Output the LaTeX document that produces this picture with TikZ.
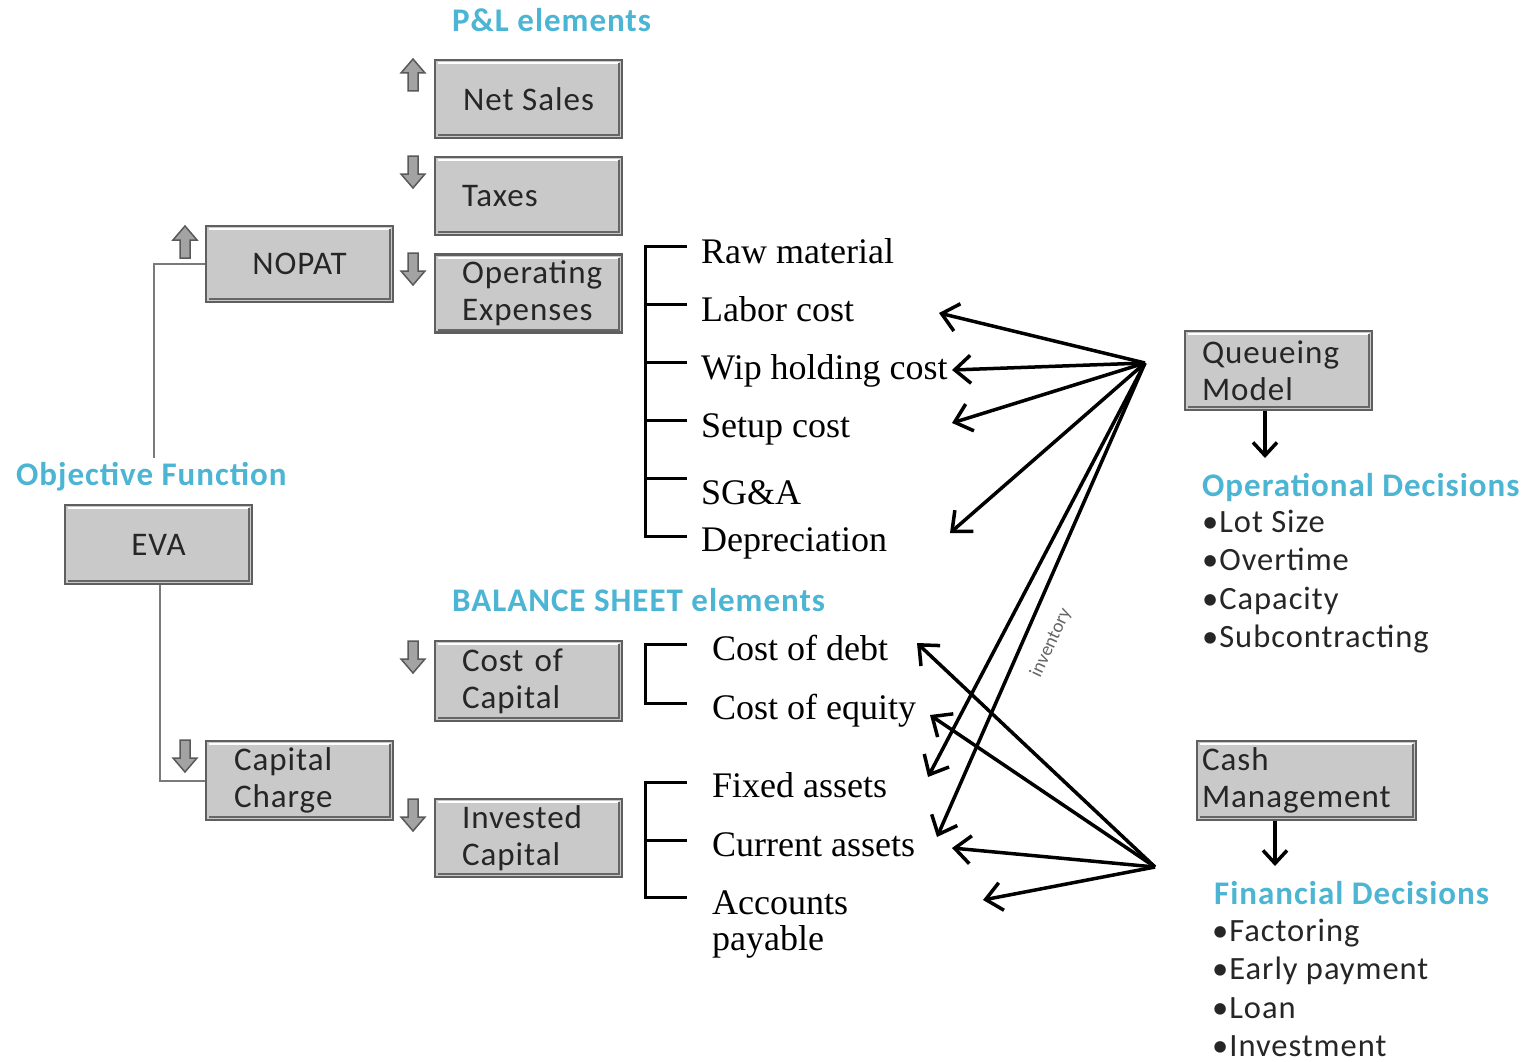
\documentclass[tikz,border=0pt]{standalone}
\usepackage{fontspec}
\setmainfont{Liberation Serif}
\newfontfamily\carl{Carlito}
\newfontfamily\carlwide[LetterSpace=3]{Carlito}
\usetikzlibrary{arrows.meta}

\definecolor{boxfill}{HTML}{C9C9C9}
\definecolor{boxedge}{HTML}{5F5F5F}
\definecolor{headblue}{HTML}{4BB5D3}
\definecolor{conngray}{HTML}{7A7A7A}
\definecolor{arrfill}{HTML}{A3A3A3}

\tikzset{
  box/.style={draw=boxedge, fill=boxfill, line width=2.5pt, minimum height=78pt, inner ysep=0pt,
    font=\carlwide\fontsize{33}{37}\selectfont, text=black!85,
    path picture={
      \draw[white, line width=2pt] ([xshift=3pt,yshift=-3pt]path picture bounding box.north west) -- ([xshift=-3pt,yshift=-3pt]path picture bounding box.north east);
      \draw[black!60, line width=2pt] ([xshift=-3pt,yshift=-3pt]path picture bounding box.north east) -- ([xshift=-3pt,yshift=3pt]path picture bounding box.south east) -- ([xshift=3pt,yshift=3pt]path picture bounding box.south west);
    }},
  lbox/.style={box, align=left, text width=133pt, inner xsep=27pt},
  item/.style={anchor=base west, font=\fontsize{36}{36}\selectfont, inner sep=0pt},
  heading/.style={anchor=base west, font=\carlwide\bfseries\fontsize{33}{36}\selectfont, text=headblue, inner sep=0pt},
  bullets/.style={anchor=north west, font=\carlwide\fontsize{32.5}{38.3}\selectfont, inner sep=0pt, align=left, text=black!85},
  link/.style={draw=conngray, line width=2pt},
  bracket/.style={draw=black, line width=3pt},
  impact/.style={draw=black, line width=3.5pt, -{Straight Barb[length=16pt,width=28pt]}},
  drop/.style={draw=black, line width=3.5pt, -{Straight Barb[length=13pt,width=24pt]}},
  blockdown/.pic={\path[fill=arrfill, draw=black!65, line width=1.5pt]
    (-5,-16)--(5,-16)--(5,2)--(12,2)--(0,16)--(-12,2)--(-5,2)--cycle;},
  blockup/.pic={\path[fill=arrfill, draw=black!65, line width=1.5pt]
    (-5,16)--(5,16)--(5,-2)--(12,-2)--(0,-16)--(-12,-2)--(-5,-2)--cycle;}
}

\begin{document}
\begin{tikzpicture}[x=1pt, y=-1pt]
\useasboundingbox (0,0) rectangle (1523,1062);
\fill[white] (0,0) rectangle (1523,1062);

% headings
\node[heading] (plh) at (452,32) {P\&L elements};
\node[heading] (bsh) at (452,611) {BALANCE SHEET elements};
\node[heading] (objh) at (16,485) {Objective Function};
\node[heading] (oph) at (1202,496) {Operational Decisions};
\node[heading] (finh) at (1214,904) {Financial Decisions};

% boxes
\node[box, minimum width=187pt] (netsales) at (528.5,99) {Net Sales};
\node[lbox] (taxes) at (528.5,196) {Taxes};
\node[lbox] (opex) at (528.5,293.5) {Operating\\Expenses};
\node[box, minimum width=187pt, minimum height=76pt] (nopat) at (299.5,264) {NOPAT};
\node[box, minimum width=187pt, minimum height=79pt] (eva) at (158.5,544.5) {EVA};
\node[lbox, minimum height=80pt] (coc) at (528.5,681) {Cost of\\Capital};
\node[lbox, text width=131pt, inner xsep=28pt, minimum height=79pt] (capch) at (299.5,780.5) {Capital\\Charge};
\node[lbox] (invcap) at (528.5,838) {Invested\\Capital};
\node[lbox, text width=153pt, inner xsep=17pt, minimum height=79pt] (queue) at (1278.5,370.5) {Queueing\\Model};
\node[lbox, text width=209pt, inner xsep=5pt, minimum height=79pt] (cash) at (1306.5,780.5) {Cash\\Management};

% small block arrows
\pic at (413,75) {blockup};
\pic at (413,172) {blockdown};
\pic at (413,269) {blockdown};
\pic at (185,242) {blockup};
\pic at (413,657) {blockdown};
\pic at (185,756) {blockdown};
\pic at (413,815) {blockdown};

% gray connectors
\coordinate (objtop) at (154,458);
\draw[link] (nopat.west) -| (objtop);
\draw[link] ([xshift=1.5pt]eva.south) |- (capch.west);

% brackets
\draw[bracket] (687,246) -- (645,246) -- (645,536) -- (687,536);
\foreach \yy in {304,362,420,478} \draw[bracket] (645,\yy) -- (687,\yy);
\draw[bracket] (687,644) -- (645,644) -- (645,703) -- (687,703);
\draw[bracket] (687,782) -- (645,782) -- (645,897) -- (687,897);
\draw[bracket] (645,840) -- (687,840);

% cost items
\node[item] (raw) at (701,263) {Raw material};
\node[item] (labor) at (701,321) {Labor cost};
\node[item] (wip) at (701,379) {Wip holding cost};
\node[item] (setup) at (701,437) {Setup cost};
\node[item] (sga) at (701,504) {SG\&A};
\node[item] (depr) at (701,551) {Depreciation};
\node[item] (debt) at (712,660) {Cost of debt};
\node[item] (equity) at (712,719) {Cost of equity};
\node[item] (fixed) at (712,797) {Fixed assets};
\node[item] (current) at (712,856) {Current assets};
\node[item, anchor=north west, align=left] (payable) at (712,891) {Accounts\\payable};

% decision lists
\node[bullets] (oplist) at (1202,510) {•Lot Size\\•Overtime\\•Capacity\\•Subcontracting};
\node[bullets] (finlist) at (1212,919) {•Factoring\\•Early payment\\•Loan\\•Investment};

% down arrows from models
\coordinate (opdtop) at (1265,458);
\coordinate (findtop) at (1275,866);
\draw[drop] (queue.south -| opdtop) -- (opdtop);
\draw[drop] (cash.south -| findtop) -- (findtop);

% queueing model impacts
\coordinate (qhub) at (1145,363);
\coordinate (qlabor) at (939,313);
\coordinate (qwip) at (952,370);
\coordinate (qsetup) at (952,423);
\coordinate (qdepr) at (950,533);
\coordinate (qfixed) at (928,777);
\coordinate (qcurr) at (937,837);
\foreach \t in {qlabor,qwip,qsetup,qdepr,qfixed,qcurr} \draw[impact] (qhub) -- (\t);

% cash management impacts
\coordinate (fhub) at (1155,867);
\coordinate (fdebt) at (917,643);
\coordinate (fequity) at (930,715);
\coordinate (fcurr) at (952,848);
\coordinate (fpay) at (983,900);
\foreach \t in {fdebt,fequity,fcurr,fpay} \draw[impact] (fhub) -- (\t);

\node[rotate=65, font=\carl\fontsize{19}{20}\selectfont, text=black!60, inner sep=0pt] (inv) at (1051,643) {inventory};
\end{tikzpicture}
\end{document}
